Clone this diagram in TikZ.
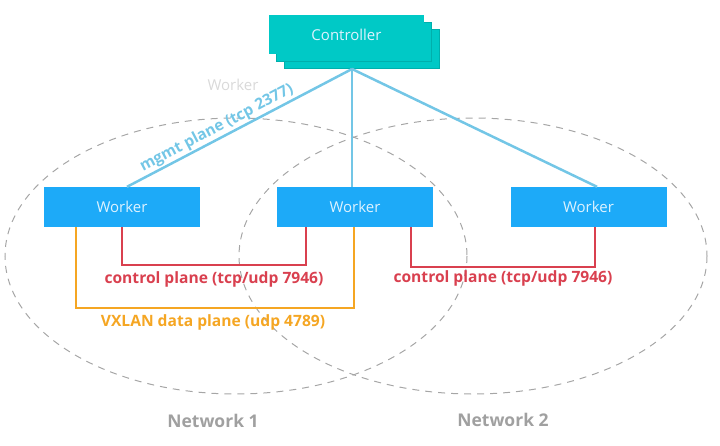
\documentclass[tikz,border=0pt]{standalone}
\usepackage{fontspec}
\setmainfont{Open Sans}
\usetikzlibrary{calc}
\definecolor{teal1}{HTML}{00C9C6}
\definecolor{teal2}{HTML}{00AFAC}
\definecolor{wblue}{HTML}{1DAAF8}
\definecolor{mgmt}{HTML}{73C6E6}
\definecolor{cred}{HTML}{D9404F}
\definecolor{corange}{HTML}{F5A623}
\definecolor{netgray}{HTML}{A0A0A0}
\definecolor{boxtext}{HTML}{DDF2FF}
\tikzset{
  workerbox/.style={fill=wblue, minimum width=156pt, minimum height=40pt, inner sep=0pt, text=boxtext, font=\fontsize{15}{17}\selectfont},
  ctrlbox/.style={fill=teal1, minimum width=155pt, minimum height=39pt, inner sep=0pt, text=boxtext, font=\fontsize{15}{17}\selectfont},
  shadowbox/.style={fill=teal1, draw=teal2, line width=0.6pt, minimum width=155pt, minimum height=39pt, inner sep=0pt},
  netellipse/.style={draw=gray!70, dashed, dash pattern=on 7pt off 6pt, line width=1pt},
  mgmtline/.style={draw=mgmt, line width=2.5pt},
  redline/.style={draw=cred, line width=2.5pt},
  orangeline/.style={draw=corange, line width=2.5pt},
  redlabel/.style={text=cred, font=\bfseries\fontsize{15.6}{17}\selectfont},
  orangelabel/.style={text=corange, font=\bfseries\fontsize{15.6}{17}\selectfont},
  netlabel/.style={text=netgray, font=\bfseries\fontsize{17.5}{20}\selectfont},
}
\begin{document}
\begin{tikzpicture}[x=1pt,y=-1pt]
\useasboundingbox (0,0) rectangle (720,445);
% networks
\draw[netellipse] (236,256) ellipse [x radius=231, y radius=138];
\draw[netellipse] (473,256) ellipse [x radius=234, y radius=138];
\node[netlabel] (n1) at (213,421) {Network 1};
\node[netlabel] (n2) at (503,420) {Network 2};
% controller
\node[shadowbox] (cs2) at (361.5,49) {};
\node[shadowbox] (cs1) at (354,41.5) {};
\node[ctrlbox] (ctrl) at (346.5,34.5) {Controller};
\coordinate (hub) at (352,69);
% ghost text
\node[text=gray!30, font=\fontsize{15}{17}\selectfont] (ghost) at (233,85) {Worker};
% workers
\node[workerbox] (w1) at (122,207) {Worker};
\node[workerbox] (w2) at (355,207) {Worker};
\node[workerbox] (w3) at (588.5,207) {Worker};
% mgmt lines
\coordinate (w1top) at ([xshift=5pt]w1.north);
\coordinate (w2top) at ([xshift=-3pt]w2.north);
\coordinate (w3top) at ([xshift=8.5pt]w3.north);
\draw[mgmtline] (hub) -- (w1top);
\draw[mgmtline] (hub) -- (w2top);
\draw[mgmtline] (hub) -- (w3top);
\path (w1top) -- (hub) node[pos=0.42, above=-1pt, sloped, text=mgmt, font=\bfseries\fontsize{15.4}{17}\selectfont] (mg) {mgmt plane (tcp 2377)};
% control plane
\draw[redline] ([xshift=0pt]w1.south) -- ++(0,38) -| ([xshift=-49pt]w2.south);
\draw[redline] ([xshift=56pt]w2.south) -- ++(0,40) -| ([xshift=6.5pt]w3.south);
\node[redlabel] (cp1) at (214,279) {control plane (tcp/udp 7946)};
\node[redlabel] (cp2) at (503,278) {control plane (tcp/udp 7946)};
% data plane
\draw[orangeline] ([xshift=-46pt]w1.south) -- ++(0,81) -| ([xshift=-1pt]w2.south);
\node[orangelabel] (dp) at (213,322) {VXLAN data plane (udp 4789)};
\end{tikzpicture}
\end{document}
